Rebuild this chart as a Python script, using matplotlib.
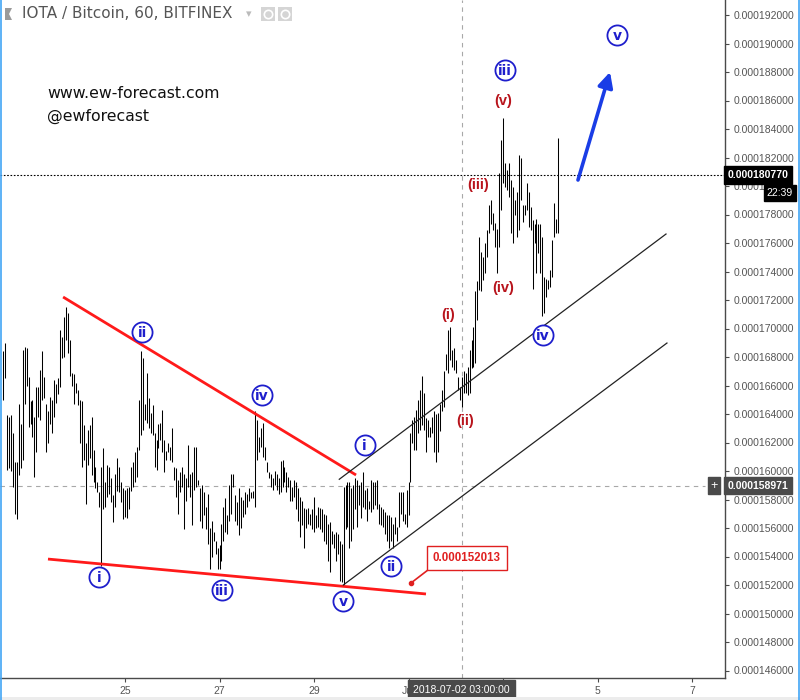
import numpy as np
import matplotlib
matplotlib.use("Agg")
import matplotlib.pyplot as plt
from matplotlib.collections import LineCollection
from matplotlib.patches import Rectangle, Polygon
from matplotlib.lines import Line2D

plt.rcParams['font.family'] = ['Liberation Sans', 'DejaVu Sans']

# ---------------- data (prices in micro-BTC, 1e-6 BTC) ----------------
# hourly bars; x axis in day numbers (June 22 = 22 ... July 1 = 31)
start_day = 22 + 10 / 24.0

bar_high = [
    # Jun 22 - 25
    168.4, 169.0, 163.9, 163.8, 163.9, 162.7, 160.6, 160.6, 164.7, 163.3,
    168.5, 168.7, 168.6, 166.6, 164.9, 165.0, 163.8, 165.9, 165.9, 167.1,
    168.4, 166.6, 164.7, 164.2, 165.2, 165.0, 166.4, 166.1, 166.5, 169.9,
    169.4, 170.8, 171.5, 171.1, 169.2, 166.9, 166.8, 166.2, 165.7, 165.0,
    164.9, 163.2, 162.0, 162.9, 163.2, 163.8, 161.5, 160.3, 159.2, 158.5,
    160.3, 161.6, 159.2, 160.4, 160.3, 159.5, 158.3, 159.8, 160.9, 160.3,
    159.2, 158.8, 158.7, 158.8, 158.9, 160.3, 160.6, 161.3, 161.7, 165.0,
    # Jun 25 - 28
    168.4, 167.9, 164.7, 166.9, 165.1, 164.1, 164.6, 162.7, 162.2, 163.3,
    163.4, 164.3, 162.2, 161.4, 162.0, 161.7, 163.0, 160.3, 160.2, 159.4,
    159.9, 160.3, 159.8, 159.5, 161.8, 159.8, 159.9, 161.7, 161.7, 159.4,
    158.8, 159.0, 158.5, 157.5, 158.4, 156.0, 156.5, 155.7, 155.1, 154.6,
    154.8, 156.3, 157.5, 158.1, 156.9, 159.0, 159.8, 159.8, 158.3, 157.8,
    158.8, 158.2, 158.0, 158.5, 158.4, 158.8, 158.5, 158.6, 164.2, 163.6,
    162.4, 163.0, 163.4, 161.7, 160.6, 159.9, 159.8, 159.5, 160.0, 159.8,
    159.5,
    # Jun 28 - Jul 1
    160.7, 160.8, 160.3, 159.9, 159.6, 159.4, 158.9, 159.4, 159.2, 158.8,
    158.2, 157.9, 157.4, 157.3, 157.4, 157.0, 157.3, 158.2, 156.9, 157.5,
    157.4, 157.3, 157.0, 156.9, 156.3, 156.4, 155.8, 155.6, 155.7, 155.6,
    155.1, 154.9, 158.9, 159.0, 159.2, 159.2, 158.8, 159.0, 159.5, 159.4,
    159.0, 159.2, 159.9, 158.7, 158.8, 157.9, 159.4, 159.2, 159.2, 159.4,
    157.7, 157.5, 157.3, 157.1, 156.9, 156.9, 156.8, 156.3, 156.8, 156.1,
    158.5, 158.5, 158.5, 157.0, 158.7, 159.2, 162.7, 163.6, 163.8, 164.3,
    165.0,
    # Jul 1 - Jul 4
    165.7, 166.7, 165.5, 163.7, 163.6, 163.1, 163.8, 164.2, 164.0, 164.1,
    164.7, 165.7, 167.0, 168.2, 169.9, 170.1, 168.5, 168.6, 167.8, 166.6,
    165.9, 166.6, 167.0, 166.9, 167.3, 168.5, 169.2, 170.1, 172.6, 173.3,
    176.4, 175.4, 175.0, 176.0, 176.9, 178.7, 179.0, 178.1, 177.4, 177.0,
    180.9, 183.2, 184.8, 181.6, 181.1, 181.6, 180.4, 179.9, 179.0, 179.6,
    182.2, 182.0, 178.7, 178.7, 180.2, 179.6, 178.5, 177.6, 177.3, 177.7,
    177.3, 177.3, 176.4, 173.6, 173.5, 173.4, 174.1, 176.2, 178.8, 177.7,
    183.4,
]

bar_low = [
    # Jun 22 - 25
    165.0, 166.5, 160.1, 160.2, 160.0, 158.9, 157.0, 156.6, 159.7, 160.2,
    160.8, 164.7, 166.0, 163.1, 163.3, 162.4, 159.6, 161.3, 163.8, 163.6,
    165.0, 165.1, 161.3, 162.0, 163.3, 162.7, 163.8, 164.8, 165.4, 165.9,
    167.9, 168.0, 169.2, 168.3, 166.7, 166.0, 164.7, 165.5, 164.6, 162.0,
    160.3, 160.8, 157.7, 160.4, 160.9, 159.7, 159.2, 158.8, 158.5, 157.5,
    153.3, 157.3, 157.5, 158.2, 158.4, 157.8, 156.4, 157.5, 158.6, 158.5,
    157.8, 156.6, 156.8, 156.7, 157.3, 158.6, 158.9, 159.2, 159.6, 161.5,
    # Jun 25 - 28
    162.5, 162.9, 163.6, 163.4, 163.0, 162.7, 162.5, 160.3, 160.1, 161.6,
    162.2, 161.3, 159.9, 160.8, 161.3, 160.8, 160.6, 159.4, 158.2, 157.0,
    158.5, 158.9, 155.9, 157.9, 158.9, 158.2, 156.2, 158.7, 158.9, 159.0,
    156.5, 156.0, 156.9, 155.9, 154.9, 153.1, 154.0, 155.1, 154.2, 153.1,
    153.1, 153.7, 155.1, 155.7, 155.6, 156.5, 157.0, 158.9, 156.5, 156.2,
    155.5, 156.0, 156.8, 157.0, 157.5, 157.9, 158.1, 158.1, 157.5, 160.8,
    161.3, 161.7, 161.0, 160.8, 159.9, 159.5, 158.9, 158.7, 159.0, 158.7,
    158.4,
    # Jun 28 - Jul 1
    158.5, 158.9, 159.2, 158.5, 158.9, 157.9, 157.9, 158.2, 157.3, 156.5,
    155.4, 156.2, 154.6, 156.0, 156.3, 156.2, 155.9, 155.7, 156.0, 156.1,
    155.9, 155.7, 155.1, 154.9, 153.7, 152.9, 154.9, 154.6, 153.7, 154.2,
    152.3, 152.2, 152.013, 155.9, 156.1, 154.6, 155.1, 155.9, 157.3, 156.1,
    157.6, 156.7, 157.5, 157.3, 156.5, 157.3, 157.1, 157.3, 157.6, 157.3,
    156.3, 156.2, 156.1, 155.6, 155.1, 154.6, 155.1, 154.6, 155.6, 155.1,
    156.1, 157.0, 156.5, 156.3, 156.1, 156.9, 159.2, 162.0, 161.5, 161.5,
    162.7,
    # Jul 1 - Jul 4
    162.9, 163.2, 162.9, 161.3, 162.4, 162.4, 162.7, 161.3, 160.6, 161.3,
    162.8, 164.2, 164.5, 167.1, 166.9, 167.8, 167.3, 167.1, 166.9, 165.7,
    165.0, 164.5, 165.5, 165.5, 165.3, 165.5, 167.2, 167.3, 167.6, 170.6,
    172.7, 172.6, 173.4, 173.9, 175.0, 176.7, 177.3, 176.9, 175.7, 173.9,
    175.7, 178.3, 180.2, 179.9, 179.7, 179.2, 176.7, 176.0, 178.0, 176.4,
    176.9, 179.0, 177.5, 178.0, 178.3, 177.1, 176.9, 172.8, 176.0, 173.9,
    175.3, 173.9, 170.9, 171.1, 172.2, 172.8, 172.9, 173.6, 176.4, 176.7,
    176.7,
]

last_price = 180.770
cross_price = 158.971
cross_day = 32 + 3 / 24.0          # 2018-07-02 03:00
wave_v_low = 152.013

x_ticks = [25, 27, 29, 31, 33, 35, 37]
x_labels = ['25', '27', '29', 'Jul', '3', '5', '7']
y_ticks = list(range(146, 193, 2))

# trend lines (day, price)
red_upper = [(23.69, 172.21), (29.89, 159.72)]
red_lower = [(23.37, 153.82), (31.37, 151.37)]
chan_upper = [(29.535, 159.42), (36.45, 176.63)]
chan_lower = [(29.62, 152.0), (36.47, 168.98)]

# Elliott wave labels
circled = [('ii', 25.37, 169.75), ('iv', 27.90, 165.33), ('i', 30.07, 161.79),
           ('i', 24.46, 152.56), ('iii', 27.05, 151.65), ('v', 29.61, 150.88),
           ('ii', 30.63, 153.30), ('iv', 33.85, 169.54), ('iii', 33.04, 188.14),
           ('v', 35.41, 190.60)]
red_lbls = [('(v)', 33.0, 185.96), ('(iii)', 32.47, 180.07), ('(i)', 31.84, 170.95),
            ('(iv)', 33.0, 172.84), ('(ii)', 32.20, 163.51)]

# ---------------- figure ----------------
W, H = 800, 700
fig = plt.figure(figsize=(8, 7), dpi=100)
fig.patch.set_facecolor('white')
ax = fig.add_axes([0, 22 / H, 725 / W, 678 / H])
x0 = 25 - 125 / 47.25
x1 = 25 + 600 / 47.25
ax.set_xlim(x0, x1)
ax.set_ylim(192 - 663 / 14.25, 192 + 15 / 14.25)

n = len(bar_high)
xs = start_day + np.arange(n) / 24.0
segs = [[(x, lo), (x, hi)] for x, lo, hi in zip(xs, bar_low, bar_high)]
bars = LineCollection(segs, colors='black', linewidths=0.75,
                      antialiaseds=True, capstyle='butt', zorder=3)
bars.set_snap(True)
ax.add_collection(bars)

# spines / ticks
for s in ['top', 'left']:
    ax.spines[s].set_visible(False)
for s in ['right', 'bottom']:
    ax.spines[s].set_color('#4a4a4a')
    ax.spines[s].set_linewidth(1.0)
ax.yaxis.tick_right()
ax.set_yticks(y_ticks)
ax.set_yticklabels(['%.9f' % (v * 1e-6) for v in y_ticks])
ax.set_xticks(x_ticks)
ax.set_xticklabels(x_labels)
ax.tick_params(axis='y', direction='out', length=3, width=0.8, color='#4a4a4a',
               labelsize=7.5, labelcolor='#555555', pad=3)
ax.tick_params(axis='x', direction='out', length=3, width=0.8, color='#4a4a4a',
               labelsize=7.5, labelcolor='#555555', pad=2.5)

# crosshair and last-price lines
ax.axvline(cross_day, color='#a8a8a8', lw=0.8, ls=(0, (4, 4)), zorder=1)
ax.plot([x0, 25 + (705 - 125) / 47.25], [cross_price, cross_price],
        color='#a8a8a8', lw=0.8, ls=(0, (4, 4)), zorder=1)
ax.axhline(last_price, color='black', lw=0.8, ls=(0, (1.5, 1.5)), zorder=2)

# trend lines
red = '#ff1a1a'
for ln in (red_upper, red_lower):
    ax.plot([p[0] for p in ln], [p[1] for p in ln], color=red, lw=2.0,
            solid_capstyle='butt', zorder=4)
for ln in (chan_upper, chan_lower):
    ax.plot([p[0] for p in ln], [p[1] for p in ln], color='#222222', lw=0.9, zorder=4)

# wave labels
blue = '#1e1ecc'
for lbl, d, p in circled:
    ax.plot(d, p, marker='o', ms=14.5, mfc='white', mec=blue, mew=1.3, zorder=6)
    ax.text(d, p - 0.05, lbl, color=blue, fontsize=10, fontweight='bold',
            family='DejaVu Sans', ha='center', va='center', zorder=7)
dark_red = '#b8141c'
for lbl, d, p in red_lbls:
    ax.text(d, p, lbl, color=dark_red, fontsize=10.5, fontweight='bold',
            ha='center', va='center', zorder=7)

# projection arrow
ax.annotate('', xy=(35.265, 188.0), xytext=(34.587, 180.42),
            arrowprops=dict(arrowstyle='-|>,head_length=0.9,head_width=0.45',
                            lw=2.6, color='#1a3de6', shrinkA=0, shrinkB=0),
            zorder=6)

# wave v price callout
ax.plot([31.053, 31.43], [152.14, 153.1], color='#e02020', lw=1.2, zorder=6)
ax.plot(31.053, 152.14, 'o', ms=3, color='#e02020', zorder=6)
ax.text(32.238, 153.89, '%.9f' % (wave_v_low * 1e-6), color='#e02020', fontsize=8.3,
        fontweight='bold', ha='center', va='center', zorder=7,
        bbox=dict(boxstyle='square,pad=0.5', fc='white', ec='#e02020', lw=1.0))

# watermark text
ax.text(47 / 725, 1 - 93 / 678, 'www.ew-forecast.com', transform=ax.transAxes,
        fontsize=11.3, family='DejaVu Sans', color='#111111', ha='left', va='center')
ax.text(47 / 725, 1 - 116 / 678, '@ewforecast', transform=ax.transAxes,
        fontsize=11.3, family='DejaVu Sans', color='#111111', ha='left', va='center')

# title
ax.text(22 / 725, 1 - 14 / 678, 'IOTA / Bitcoin, 60, BITFINEX', transform=ax.transAxes,
        fontsize=11, family='DejaVu Sans', color='#555555', ha='left', va='center')

# price axis labels
yt = ax.get_yaxis_transform()
ax.text(1.004, last_price, '%.9f' % (last_price * 1e-6), transform=yt, color='white',
        fontsize=7.5, fontweight='bold', ha='left', va='center', zorder=8, clip_on=False,
        bbox=dict(boxstyle='square,pad=0.35', fc='black', ec='black'))
ax.text(1.0575, last_price - 1.25, '22:39', transform=yt, color='white',
        fontsize=7.5, ha='left', va='center', zorder=8, clip_on=False,
        bbox=dict(boxstyle='square,pad=0.3', fc='black', ec='black'))
ax.text(1.004, cross_price, '%.9f' % (cross_price * 1e-6), transform=yt, color='white',
        fontsize=7.5, fontweight='bold', ha='left', va='center', zorder=8, clip_on=False,
        bbox=dict(boxstyle='square,pad=0.35', fc='#4a4a4a', ec='#4a4a4a'))
ax.text(0.985, cross_price, '+', transform=yt, color='white',
        fontsize=9, ha='center', va='center', zorder=8, clip_on=False,
        bbox=dict(boxstyle='square,pad=0.2', fc='#4a4a4a', ec='#4a4a4a'))
xt = ax.get_xaxis_transform()
ax.text(cross_day, -0.0175, '2018-07-02 03:00:00', transform=xt, color='white',
        fontsize=7.5, ha='center', va='center', zorder=8, clip_on=False,
        bbox=dict(boxstyle='square,pad=0.5', fc='#4a4a4a', ec='#4a4a4a'))

# header icons
fig.add_artist(Polygon([[5 / W, 1 - 8 / H], [12 / W, 1 - 8 / H], [9 / W, 1 - 14 / H],
                        [12 / W, 1 - 20 / H], [5 / W, 1 - 20 / H]],
                       closed=True, transform=fig.transFigure, fc='#9a9a9a', ec='none'))
fig.text(249 / W, 1 - 14 / H, '\u25be', fontsize=8, color='#bbbbbb', ha='center', va='center')
for cx in (268, 285):
    fig.add_artist(Rectangle(((cx - 7) / W, 1 - 21 / H), 14 / W, 14 / H,
                             transform=fig.transFigure, fc='#d5d5d5', ec='none'))
    fig.add_artist(Line2D([cx / W], [1 - 14 / H], marker='o', ms=6, mfc='none',
                          mec='white', mew=1.2, transform=fig.transFigure))

# outer frame
fig.add_artist(Rectangle((0, 0), 1, 3 / H, transform=fig.transFigure, fc='#ececec', ec='none'))
fig.add_artist(Line2D([0.6 / W, 0.6 / W], [0, 1], color='#42a5f5', lw=1.2,
                      transform=fig.transFigure))
fig.add_artist(Line2D([799.2 / W, 799.2 / W], [0, 1], color='#42a5f5', lw=1.2,
                      transform=fig.transFigure))

fig.savefig('out.png', dpi=100, facecolor='white')
